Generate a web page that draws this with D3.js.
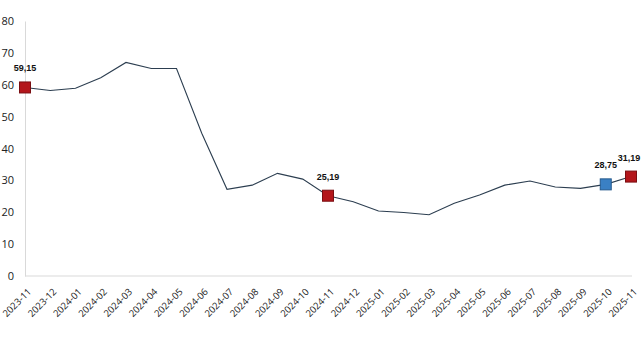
<!DOCTYPE html>
<html>
<head>
<meta charset="utf-8">
<script src="https://cdn.jsdelivr.net/npm/d3@7"></script>
<style>
  body { margin: 0; background: #fff; }
  .tick text { font-family: "Open Sans", sans-serif; fill: #222; }
</style>
</head>
<body>
<script>
var svgWidth = 641;
var svgHeight = 360;

var months = ["2023-11", "2023-12", "2024-01", "2024-02", "2024-03", "2024-04", "2024-05",
    "2024-06", "2024-07", "2024-08", "2024-09", "2024-10", "2024-11", "2024-12",
    "2025-01", "2025-02", "2025-03", "2025-04", "2025-05", "2025-06", "2025-07",
    "2025-08", "2025-09", "2025-10", "2025-11"];

var values = [59.15, 58.2, 58.9, 62.2, 67.0, 65.1, 65.1,
    44.8, 27.2, 28.5, 32.2, 30.4, 25.19, 23.3,
    20.4, 19.9, 19.2, 22.8, 25.4, 28.5, 29.8,
    27.9, 27.5, 28.75, 31.19];

var yTicks = [0, 10, 20, 30, 40, 50, 60, 70, 80];

// highlighted points and their colours
var marked = [
    { month: "2023-11", color: "#b3161b", stroke: "#7a0e12", dx: 0 },
    { month: "2024-11", color: "#b3161b", stroke: "#7a0e12", dx: 0 },
    { month: "2025-10", color: "#3a80c4", stroke: "#24598d", dx: 0 },
    { month: "2025-11", color: "#b3161b", stroke: "#7a0e12", dx: -2 }
];

var chartMargin = { top: 21, right: 10, bottom: 84, left: 25 };
var chartWidth = svgWidth - chartMargin.left - chartMargin.right;
var chartHeight = svgHeight - chartMargin.top - chartMargin.bottom;

var svg = d3.select("body")
    .append("svg")
    .attr("width", svgWidth)
    .attr("height", svgHeight);

var chartGroup = svg.append("g")
    .attr("transform", `translate(${chartMargin.left}, ${chartMargin.top})`);

var xScale = d3.scalePoint()
    .domain(months)
    .range([0, 606]);

var yScale = d3.scaleLinear()
    .domain([0, 80])
    .range([chartHeight, 0]);

// y axis
var leftAxis = d3.axisLeft(yScale).tickValues(yTicks).tickSize(0).tickPadding(11);
var yAxisG = chartGroup.append("g").call(leftAxis);
yAxisG.select(".domain").attr("stroke", "#d9d9d9");
yAxisG.selectAll("text").style("font-size", "11px");

// x axis
var bottomAxis = d3.axisBottom(xScale).tickSize(0).tickPadding(0);
var xAxisG = chartGroup.append("g")
    .attr("transform", `translate(0, ${chartHeight})`)
    .call(bottomAxis);
xAxisG.select(".domain").attr("stroke", "#d9d9d9").attr("d", "M0,0H607");
xAxisG.selectAll("text")
    .style("font-size", "9.5px")
    .attr("text-anchor", "end")
    .attr("dy", "0.35em")
    .attr("transform", "translate(4, 14) rotate(-45)");

// line
var line = d3.line()
    .x((d, i) => xScale(months[i]))
    .y(d => yScale(d));

chartGroup.append("path")
    .datum(values)
    .attr("fill", "none")
    .attr("stroke", "#2c3e50")
    .attr("stroke-width", 1.1)
    .attr("d", line);

// markers
chartGroup.selectAll(".mark")
    .data(marked)
    .enter()
    .append("rect")
    .attr("class", "mark")
    .attr("x", d => xScale(d.month) - 5.5)
    .attr("y", d => yScale(values[months.indexOf(d.month)]) - 5.5)
    .attr("width", 11)
    .attr("height", 11)
    .attr("fill", d => d.color)
    .attr("stroke", d => d.stroke)
    .attr("stroke-width", 1);

chartGroup.selectAll(".lbl")
    .data(marked)
    .enter()
    .append("text")
    .attr("class", "lbl")
    .attr("x", d => xScale(d.month) + d.dx)
    .attr("y", d => yScale(values[months.indexOf(d.month)]) - 16)
    .attr("text-anchor", "middle")
    .style("font-family", "Liberation Sans, Arial, sans-serif")
    .style("font-size", "9px")
    .style("font-weight", "bold")
    .attr("fill", "#111")
    .text(d => values[months.indexOf(d.month)].toFixed(2).replace(".", ","));
</script>
</body>
</html>
